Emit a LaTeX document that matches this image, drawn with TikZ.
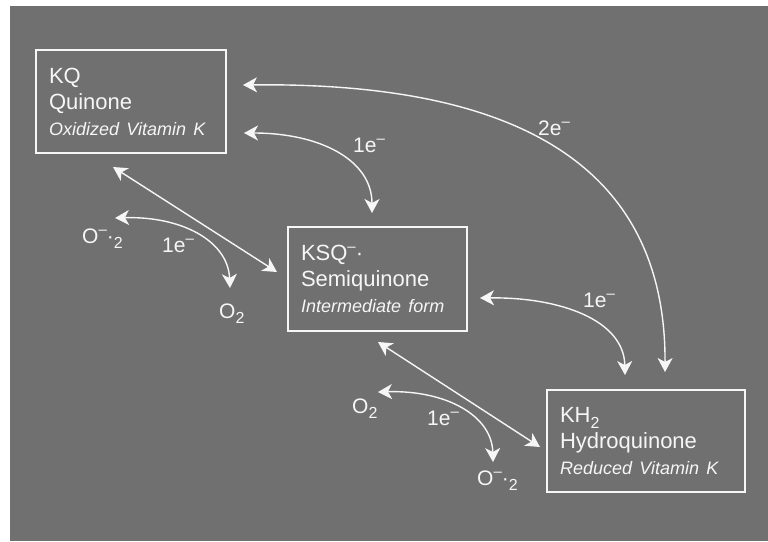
\documentclass[tikz,border=0pt]{standalone}
\usepackage{fontspec}
\setmainfont{Liberation Sans}
\usetikzlibrary{arrows.meta}
\definecolor{bg}{RGB}{112,112,112}
\definecolor{fg}{RGB}{246,246,246}
\newcommand{\lsub}[1]{\raisebox{-0.28em}{\fontsize{16}{16}\selectfont #1}}
\newcommand{\lsup}[1]{\raisebox{0.42em}{\fontsize{15}{15}\selectfont #1}}
\newcommand{\itline}[1]{\mbox{\fontsize{18}{26}\selectfont\itshape #1}}
\begin{document}
\begin{tikzpicture}[x=1pt,y=-1pt,
  statebox/.style={draw=fg, line width=1.4pt, text=fg, align=left, inner xsep=13pt,
    font=\fontsize{22}{26}\selectfont},
  lbl/.style={text=fg, inner sep=0pt, font=\fontsize{21}{24}\selectfont},
  conn/.style={draw=fg, line width=1.4pt,
    {Stealth[length=14pt,width=15pt,inset=4pt]}-{Stealth[length=14pt,width=15pt,inset=4pt]}}]
\useasboundingbox (0,0) rectangle (768,541);
\fill[white] (0,0) rectangle (768,541);
\fill[bg] (10,6) rectangle (768,541);

% boxes
\node[statebox, minimum width=190pt, minimum height=103pt, text width=164pt] (kq) at (131,101.5)
  {KQ\\Quinone\\\itline{Oxidized Vitamin K}};
\node[statebox, minimum width=179pt, minimum height=104pt, text width=153pt] (ksq) at (377.5,279)
  {KSQ\lsup{–}·\\Semiquinone\\\itline{Intermediate form}};
\node[statebox, minimum width=198pt, minimum height=102pt, text width=172pt] (kh) at (646,441)
  {KH\lsub{2}\\Hydroquinone\\\itline{Reduced Vitamin K}};

% labels
\node[lbl, anchor=base west] (sa) at (82,243) {O\lsup{–}·\lsub{2}};
\node[lbl, anchor=base west] (ea) at (162,252) {1e\lsup{–}};
\node[lbl, anchor=base west] (oa) at (219,318) {O\lsub{2}};
\node[lbl, anchor=base west] (eb) at (353,152) {1e\lsup{–}};
\node[lbl, anchor=base west] (ec) at (538,135) {2e\lsup{–}};
\node[lbl, anchor=base west] (ed) at (583,307) {1e\lsup{–}};
\node[lbl, anchor=base west] (ob) at (352,413) {O\lsub{2}};
\node[lbl, anchor=base west] (ee) at (427,425) {1e\lsup{–}};
\node[lbl, anchor=base west] (sb) at (477,485) {O\lsup{–}·\lsub{2}};

% connector end points
\coordinate (p2a) at (243,85);
\coordinate (p2b) at (665,372);
\coordinate (p1a) at (244,133);
\coordinate (p1b) at (372,213);
\coordinate (pqa) at (113,167);
\coordinate (pqb) at (277,272);
\coordinate (psa) at (115,218);
\coordinate (psb) at (230,288);
\coordinate (pra) at (480,298);
\coordinate (prb) at (625,375);
\coordinate (pha) at (378,342);
\coordinate (phb) at (540,447);
\coordinate (pba) at (378,392);
\coordinate (pbb) at (493,462);

% connectors
\draw[conn] (p2a) .. controls (500,82) and (666,155) .. (p2b);
\draw[conn] (p1a) .. controls (320,133) and (372,160) .. (p1b);
\draw[conn] (pqa) -- (pqb);
\draw[conn] (psa) .. controls (180,216) and (228,240) .. (psb);
\draw[conn] (pra) .. controls (560,297) and (624,320) .. (prb);
\draw[conn] (pha) -- (phb);
\draw[conn] (pba) .. controls (445,390) and (492,415) .. (pbb);
\end{tikzpicture}
\end{document}
